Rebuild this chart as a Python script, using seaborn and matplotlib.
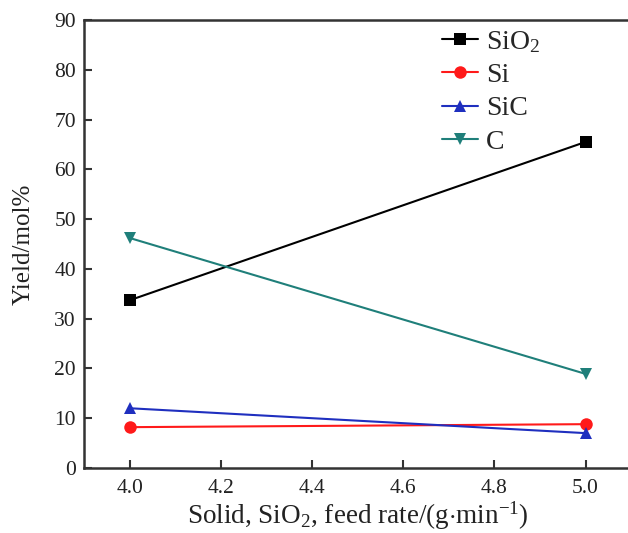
import matplotlib
matplotlib.use("Agg")
import matplotlib.pyplot as plt
import seaborn as sns
import pandas as pd

feed_rate = [4.0, 5.0]
sio2 = [33.7, 65.5]
si = [8.2, 8.8]
sic = [12.0, 7.0]
c = [46.2, 18.9]
series_names = ["SiO$_2$", "Si", "SiC", "C"]
colors = ["#000000", "#ff1a1a", "#1f2fbf", "#1f7f7a"]
markers = ["s", "o", "^", "v"]

sns.set_theme(style="ticks")
plt.rcParams["font.family"] = ["Liberation Serif", "DejaVu Serif"]
plt.rcParams["mathtext.fontset"] = "custom"
plt.rcParams["mathtext.rm"] = "Liberation Serif"
plt.rcParams["mathtext.it"] = "Liberation Serif"

fig = plt.figure(figsize=(6.28, 5.33), dpi=100)
ax = fig.add_axes([0.134, 0.122, 0.871, 0.8405])

for name, vals, col, mk in zip(series_names, [sio2, si, sic, c], colors, markers):
    df = pd.DataFrame({"x": feed_rate, "y": vals})
    sns.lineplot(data=df, x="x", y="y", ax=ax, color=col, marker=mk,
                 markersize=9, markeredgewidth=0, linewidth=1.5, label=name)

ax.set_xlim(3.9, 5.1)
ax.set_ylim(0, 90)
ax.set_xticks([4.0, 4.2, 4.4, 4.6, 4.8, 5.0])
ax.set_xticklabels(["4.0", "4.2", "4.4", "4.6", "4.8", "5.0"])
ax.set_yticks(range(0, 91, 10))
ax.tick_params(direction="in", length=6, width=1.5, labelsize=15.5, colors="#333333",
               labelcolor="#222222", pad=6)
ax.tick_params(axis="x", pad=8)
for sp in ax.spines.values():
    sp.set_linewidth(1.8)
    sp.set_color("#333333")

ax.set_xlabel("Solid, SiO$_2$, feed rate/(g$\\cdot$min$^{-1}$)", fontsize=19.5, color="#222222",
              labelpad=1)
ax.set_ylabel("Yield/mol%", fontsize=18, color="#222222", labelpad=14)

leg = ax.legend(loc="upper left", bbox_to_anchor=(0.654, 0.98), frameon=False,
                fontsize=20, handlelength=1.3, labelspacing=0.28, handletextpad=0.3,
                borderpad=0, borderaxespad=0)
for h in leg.legend_handles:
    h.set_markersize(9)
    h.set_markeredgewidth(0)

fig.savefig("out.png", dpi=100)
